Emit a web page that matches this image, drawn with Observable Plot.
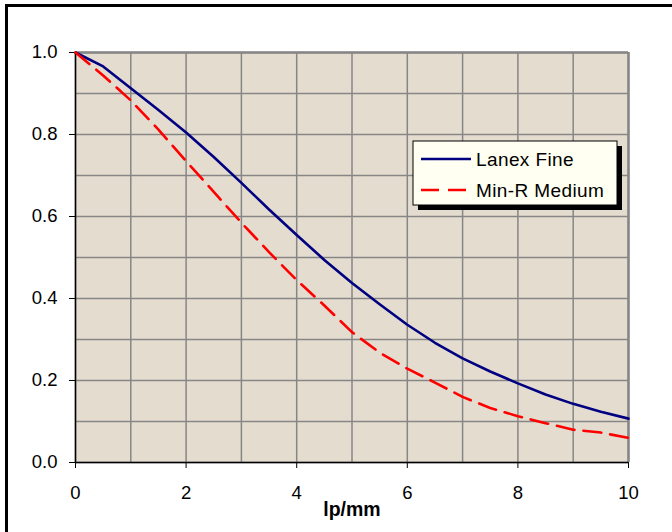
<!DOCTYPE html>
<html><head><meta charset="utf-8">
<script src="https://cdn.jsdelivr.net/npm/d3@7"></script>
<script src="https://cdn.jsdelivr.net/npm/@observablehq/plot@0.6"></script>
<style>
body{margin:0;background:#fff;}
#wrap{position:relative;width:672px;height:532px;overflow:hidden;}
#frame{position:absolute;left:5px;top:4px;width:700px;height:600px;border-left:3px solid #000;border-top:3px solid #000;pointer-events:none;}
svg{font-family:"Liberation Sans",Arial,sans-serif;}
</style></head><body><div id="wrap"><div id="frame"></div></div>
<script>
const lpmm = [0,0.5,1,1.5,2,2.5,3,3.5,4,4.5,5,5.5,6,6.5,7,7.5,8,8.5,9,9.5,10];
const lanexFine = [1.0,0.966,0.913,0.86,0.805,0.745,0.682,0.617,0.555,0.494,0.438,0.386,0.336,0.292,0.254,0.222,0.193,0.166,0.143,0.124,0.107];
const minRMedium = [1.0,0.944,0.883,0.812,0.735,0.66,0.585,0.513,0.445,0.383,0.318,0.268,0.229,0.195,0.16,0.133,0.113,0.096,0.08,0.073,0.06];
const seriesNames = ["Lanex Fine","Min-R Medium"];
const seriesColors = ["#000080","#ff0000"];
const xTicks = [0,2,4,6,8,10];
const yTicks = [0,0.2,0.4,0.6,0.8,1.0];
const xGrid = [0,1,2,3,4,5,6,7,8,9,10];
const yGrid = [0,0.1,0.2,0.3,0.4,0.5,0.6,0.7,0.8,0.9,1.0];
const xLabel = "lp/mm";

const chart = Plot.plot({
  width: 672, height: 532,
  marginLeft: 75, marginRight: 44, marginTop: 52, marginBottom: 70,
  x: {domain: [0, 10]},
  y: {domain: [0, 1]},
  style: {fontFamily: '"Liberation Sans", Arial, sans-serif', fontSize: "18px", color: "#000", background: "transparent", overflow: "visible"},
  marks: [
    Plot.frame({fill: "#e5dcd0", stroke: null}),
    Plot.gridX(xGrid, {stroke: "#868686", strokeOpacity: 1, strokeWidth: 1.5}),
    Plot.gridY(yGrid, {stroke: "#868686", strokeOpacity: 1, strokeWidth: 1.5}),
    Plot.ruleY([1], {stroke: "#868686", strokeWidth: 2.5}),
    Plot.ruleX([10], {stroke: "#868686", strokeWidth: 2.5}),
    Plot.axisX(xTicks, {tickSize: 6, tickPadding: 17, label: null, fontSize: 18.5, tickFormat: d => String(d)}),
    Plot.axisY(yTicks, {tickSize: 6, tickPadding: 12, label: null, fontSize: 18.5, tickFormat: d3.format(".1f")}),
    Plot.ruleX([0], {stroke: "#000", strokeWidth: 1.5}),
    Plot.ruleY([0], {stroke: "#000", strokeWidth: 1.5}),
    Plot.line(lpmm, {x: lpmm, y: lanexFine, stroke: seriesColors[0], strokeWidth: 2.6}),
    Plot.line(lpmm, {x: lpmm, y: minRMedium, stroke: seriesColors[1], strokeWidth: 2.6, strokeDasharray: "18,9"}),
    Plot.text([xLabel], {frameAnchor: "bottom", dy: 53, text: d => d, fontWeight: "bold", fontSize: 19.5})
  ]
});
document.getElementById("wrap").prepend(chart);

// legend
const svg = d3.select(chart);
const lg = svg.append("g").attr("class", "legend").attr("text-anchor", "start");
const bx = 413, by = 141, bw = 204, bh = 64;
lg.append("rect").attr("x", bx + 5).attr("y", by + 5).attr("width", bw).attr("height", bh).attr("fill", "#000");
lg.append("rect").attr("x", bx).attr("y", by).attr("width", bw).attr("height", bh).attr("fill", "#fffff2").attr("stroke", "#000").attr("stroke-width", 1);
seriesNames.forEach((name, i) => {
  const cy = by + 18 + i * 31;
  lg.append("line").attr("x1", bx + 8).attr("x2", bx + 58).attr("y1", cy).attr("y2", cy)
    .attr("stroke", seriesColors[i]).attr("stroke-width", 2.6)
    .attr("stroke-dasharray", i === 1 ? "18,9" : null);
  lg.append("text").attr("x", bx + 63).attr("y", cy).attr("dy", "0.35em")
    .attr("text-anchor", "start")
    .attr("font-size", 19).attr("letter-spacing", "0.4px").attr("fill", "#000").text(name);
});
</script>
</body></html>
